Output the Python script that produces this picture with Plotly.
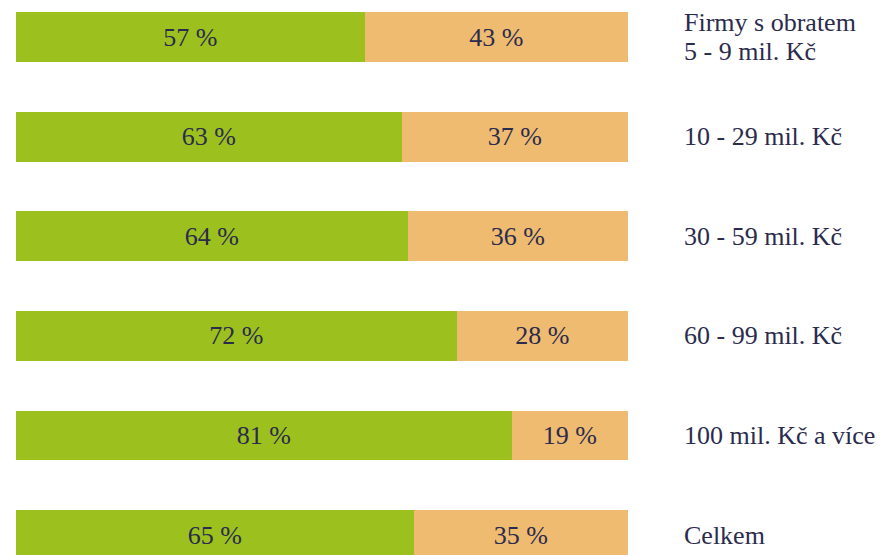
import plotly.graph_objects as go

categories = [
    "Firmy s obratem<br>5 - 9 mil. Kč",
    "10 - 29 mil. Kč",
    "30 - 59 mil. Kč",
    "60 - 99 mil. Kč",
    "100 mil. Kč a více",
    "Celkem",
]
share_green = [57, 63, 64, 72, 81, 65]
share_orange = [43, 37, 36, 28, 19, 35]

GREEN = "#9cc11f"
ORANGE = "#efbb70"
TEXT = "#2b2b4d"
FONT = "Liberation Serif"

rows = list(range(len(categories)))

fig = go.Figure()
fig.add_trace(go.Bar(
    x=share_green, y=rows, orientation="h",
    marker=dict(color=GREEN, line=dict(width=0)),
    width=0.5,
    text=[f"{v} %" for v in share_green],
    textposition="inside", insidetextanchor="middle",
    textfont=dict(family=FONT, size=26, color=TEXT),
))
fig.add_trace(go.Bar(
    x=share_orange, y=rows, orientation="h",
    marker=dict(color=ORANGE, line=dict(width=0)),
    width=0.5,
    text=[f"{v} %" for v in share_orange],
    textposition="inside", insidetextanchor="middle",
    textfont=dict(family=FONT, size=26, color=TEXT),
))

# right-hand labels; multi-line labels are placed line by line (tighter spacing)
for i, label in enumerate(categories):
    lines = label.split("<br>")
    n = len(lines)
    for k, line in enumerate(lines):
        fig.add_annotation(
            x=1.0885, xref="paper", y=i + (k - (n - 1) / 2) * 0.3, yref="y",
            text=line, showarrow=False,
            xanchor="left", yanchor="middle", align="left",
            font=dict(family=FONT, size=26, color=TEXT),
        )

fig.update_layout(
    barmode="stack",
    width=890, height=555,
    margin=dict(l=8, r=270, t=0, b=0),
    paper_bgcolor="white", plot_bgcolor="white",
    showlegend=False,
    uniformtext=dict(mode=False),
)
fig.update_xaxes(range=[0, 100], visible=False)
fig.update_yaxes(range=[5.2811, -0.2912], visible=False)

fig.write_html("out.html")
